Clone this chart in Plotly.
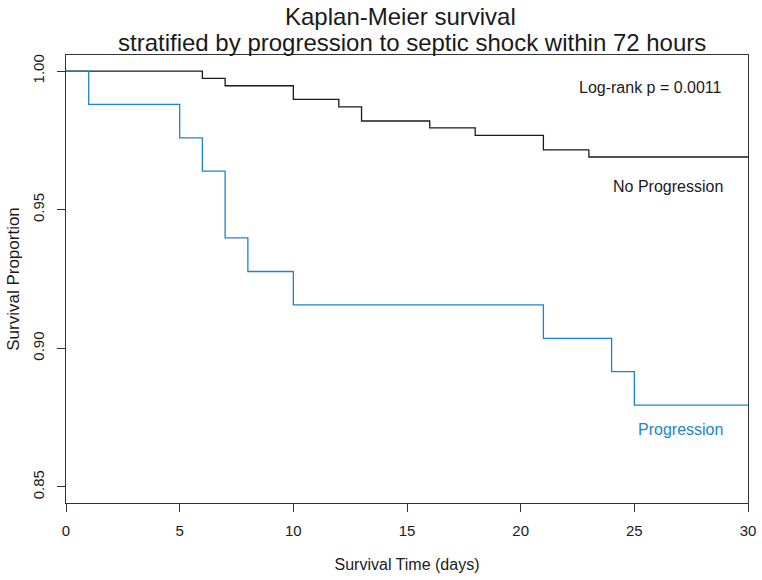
import plotly.graph_objects as go

# Kaplan-Meier step data (days, survival proportion)
no_prog_time = [0, 6, 7, 10, 12, 13, 16, 18, 21, 23, 30]
no_prog_surv = [1.0, 0.9974, 0.9947, 0.9898, 0.9871, 0.9820, 0.9795, 0.9768, 0.9716, 0.9690, 0.9690]

prog_time = [0, 1, 5, 6, 7, 8, 10, 21, 24, 25, 30]
prog_surv = [1.0, 0.9880, 0.9759, 0.9639, 0.9398, 0.9277, 0.9157, 0.9036, 0.8916, 0.8795, 0.8795]

x_ticks = [0, 5, 10, 15, 20, 25, 30]
y_ticks = [0.85, 0.90, 0.95, 1.00]
y_tick_labels = ["0.85", "0.90", "0.95", "1.00"]

BLUE = "#1f83c8"
DARK = "#1a1a1a"
FONT = "Liberation Sans, Arial, sans-serif"

fig = go.Figure()

fig.add_trace(go.Scatter(
    x=no_prog_time, y=no_prog_surv, mode="lines",
    line=dict(color=DARK, width=1.3, shape="hv"),
    name="No Progression",
))
fig.add_trace(go.Scatter(
    x=prog_time, y=prog_surv, mode="lines",
    line=dict(color=BLUE, width=1.3, shape="hv"),
    name="Progression",
))

# text labels inside the plot
fig.add_annotation(x=25.7, y=0.9939, text="Log-rank p = 0.0011", showarrow=False,
                   font=dict(size=16, color=DARK, family=FONT))
fig.add_annotation(x=26.5, y=0.9585, text="No Progression", showarrow=False,
                   font=dict(size=16, color=DARK, family=FONT))
fig.add_annotation(x=27.05, y=0.8706, text="Progression", showarrow=False,
                   font=dict(size=16, color=BLUE, family=FONT))

# two-line title
fig.add_annotation(x=0.49, y=1.085, xref="paper", yref="paper", yanchor="middle",
                   text="Kaplan-Meier survival", showarrow=False,
                   font=dict(size=24, color=DARK, family=FONT))
fig.add_annotation(x=0.508, y=1.029, xref="paper", yref="paper", yanchor="middle",
                   text="stratified by progression to septic shock within 72 hours", showarrow=False,
                   font=dict(size=24, color=DARK, family=FONT))

fig.update_layout(
    width=762, height=580,
    margin=dict(l=66, r=14, t=55, b=77),
    paper_bgcolor="white", plot_bgcolor="white",
    showlegend=False,
    font=dict(family=FONT, size=15, color=DARK),
)

fig.update_xaxes(
    range=[0, 30], tickvals=x_ticks, automargin=False,
    showgrid=False, zeroline=False,
    showline=True, linecolor="#333333", linewidth=1.3, mirror=True,
    ticks="outside", ticklen=8, tickcolor="#333333", tickwidth=1.2,
    tickfont=dict(size=15), ticklabelstandoff=6,
    title=dict(text="Survival Time (days)", font=dict(size=16), standoff=20),
)
fig.update_yaxes(
    range=[0.8442, 1.0058], tickvals=y_ticks, ticktext=y_tick_labels,
    tickangle=-90, automargin=False,
    showgrid=False, zeroline=False,
    showline=True, linecolor="#333333", linewidth=1.3, mirror=True,
    ticks="outside", ticklen=8, tickcolor="#333333", tickwidth=1.2,
    tickfont=dict(size=15), ticklabelstandoff=7,
    title=dict(text="Survival Proportion", font=dict(size=17), standoff=5),
)

fig.write_html("out.html", config={"displayModeBar": False},
               post_script="document.body.style.margin='0';")
